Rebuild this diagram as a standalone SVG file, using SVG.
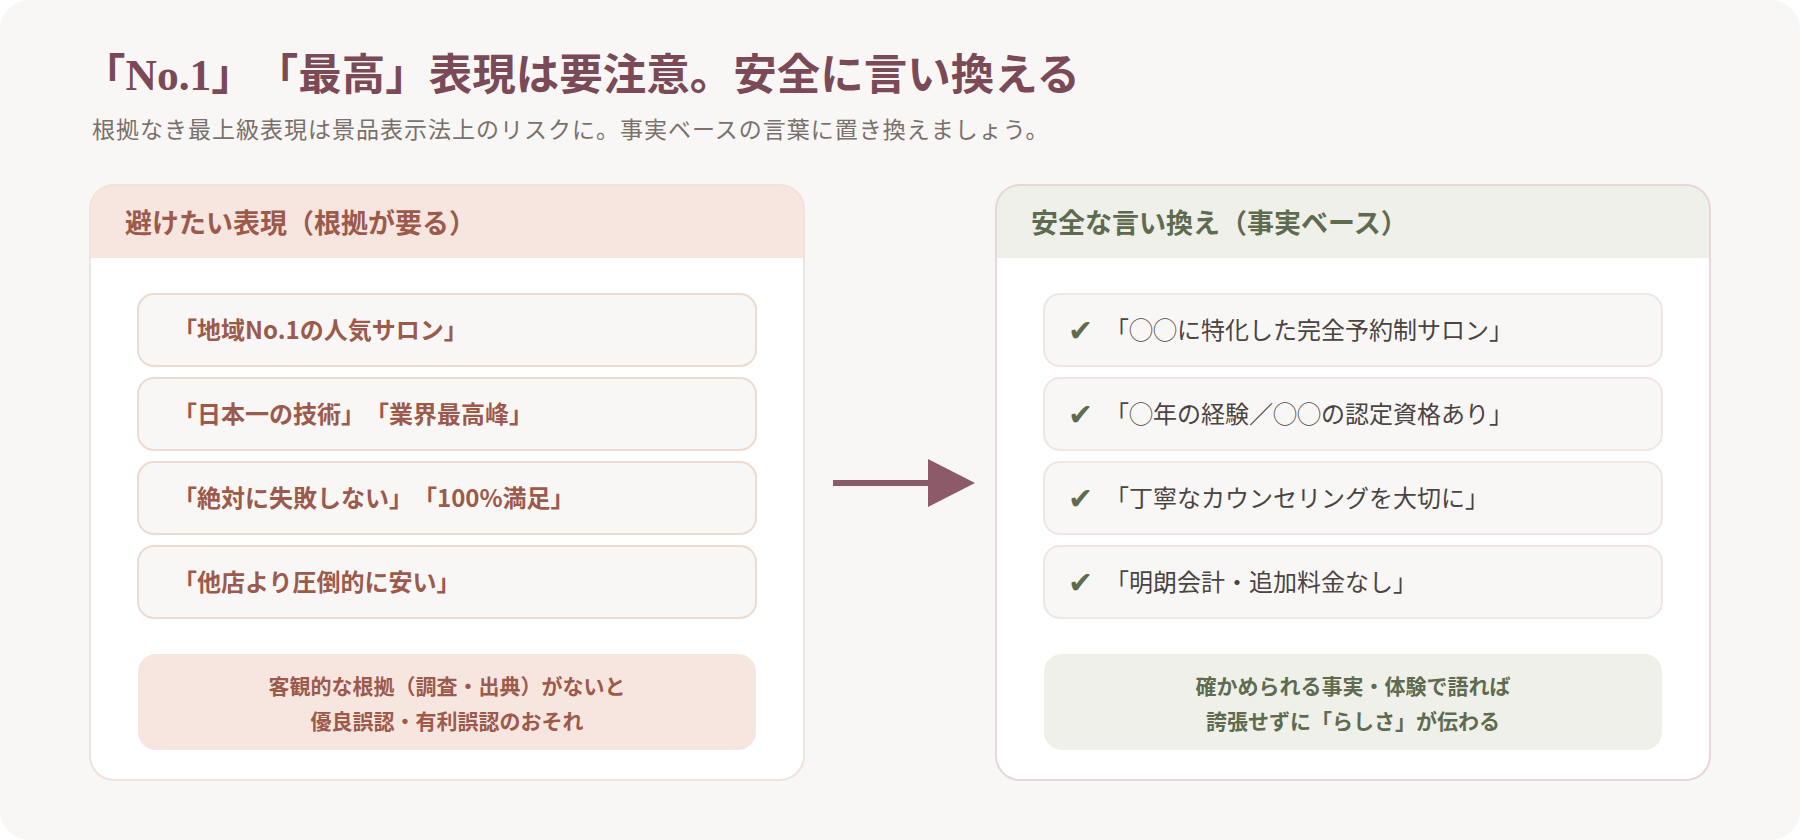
<svg xmlns="http://www.w3.org/2000/svg" width="1800" height="840" viewBox="0 0 1800 840">
  <style>
    svg, text { text-spacing-trim: space-all; }
    .jp { font-family: "Noto Sans CJK JP", "Noto Sans", sans-serif; }
    .title { font-family: "Liberation Serif", "Noto Sans CJK JP", serif; font-size: 43.5px; font-weight: 700; fill: #7b4a57; }
    .sub { font-size: 23px; fill: #7a706c; letter-spacing: 1px; }
    .hdrL { font-size: 27px; font-weight: 700; fill: #9c5a4c; }
    .hdrR { font-size: 27px; font-weight: 700; fill: #5e6b4f; }
    .itemL { font-size: 24px; font-weight: 700; fill: #9c5a4c; }
    .itemR { font-size: 24px; font-weight: 400; fill: #4a4442; }
    .noteL { font-size: 21px; font-weight: 700; fill: #9c5a4c; text-anchor: middle; }
    .noteR { font-size: 21px; font-weight: 700; fill: #5e6b4f; text-anchor: middle; }
    .check { font-family: "DejaVu Sans", sans-serif; font-size: 30px; font-weight: 400; fill: #5e6b4f; }
    .boxL { fill: #f9f7f5; stroke: #ecdccf; stroke-width: 2; }
    .boxR { fill: #f9f7f5; stroke: #efe6e3; stroke-width: 2; }
  </style>
  <rect x="0" y="0" width="1800" height="840" fill="#ffffff"/>
  <rect x="0" y="0" width="1800" height="840" rx="30" fill="#f9f7f5"/>

  <g id="title">
    <text class="title" x="82" y="90">「No.1」「最高」表現は要注意。安全に言い換える</text>
    <text class="jp sub" x="92" y="138">根拠なき最上級表現は景品表示法上のリスクに。事実ベースの言葉に置き換えましょう。</text>
  </g>

  <g id="panel-avoid">
    <rect x="90" y="185" width="714" height="595" rx="24" fill="#ffffff"/>
    <path d="M90 258 V209 A24 24 0 0 1 114 185 H780 A24 24 0 0 1 804 209 V258 Z" fill="#f7e6df"/>
    <rect x="90" y="185" width="714" height="595" rx="24" fill="none" stroke="#efe3dc" stroke-width="2"/>
    <text class="jp hdrL" x="125" y="233">避けたい表現（根拠が要る）</text>
  </g>
  <g id="avoid-1">
    <rect class="boxL" x="138" y="294" width="618" height="72" rx="16"/>
    <text class="jp itemL" x="173" y="339">「地域No.1の人気サロン」</text>
  </g>
  <g id="avoid-2">
    <rect class="boxL" x="138" y="378" width="618" height="72" rx="16"/>
    <text class="jp itemL" x="173" y="423">「日本一の技術」「業界最高峰」</text>
  </g>
  <g id="avoid-3">
    <rect class="boxL" x="138" y="462" width="618" height="72" rx="16"/>
    <text class="jp itemL" x="173" y="507">「絶対に失敗しない」「100%満足」</text>
  </g>
  <g id="avoid-4">
    <rect class="boxL" x="138" y="546" width="618" height="72" rx="16"/>
    <text class="jp itemL" x="173" y="591">「他店より圧倒的に安い」</text>
  </g>
  <g id="avoid-note">
    <rect x="138" y="654" width="618" height="96" rx="18" fill="#f7e6df"/>
    <text class="jp noteL" x="447" y="694">客観的な根拠（調査・出典）がないと</text>
    <text class="jp noteL" x="447" y="729">優良誤認・有利誤認のおそれ</text>
  </g>

  <g id="panel-safe">
    <rect x="996" y="185" width="714" height="595" rx="24" fill="#ffffff"/>
    <path d="M996 258 V209 A24 24 0 0 1 1020 185 H1686 A24 24 0 0 1 1710 209 V258 Z" fill="#eef0e9"/>
    <rect x="996" y="185" width="714" height="595" rx="24" fill="none" stroke="#e8d6da" stroke-width="2"/>
    <text class="jp hdrR" x="1031" y="233">安全な言い換え（事実ベース）</text>
  </g>
  <g id="safe-1">
    <rect class="boxR" x="1044" y="294" width="618" height="72" rx="16"/>
    <text class="check" x="1068" y="341">✔</text>
    <text class="jp itemR" x="1105" y="339">「◯◯に特化した完全予約制サロン」</text>
  </g>
  <g id="safe-2">
    <rect class="boxR" x="1044" y="378" width="618" height="72" rx="16"/>
    <text class="check" x="1068" y="425">✔</text>
    <text class="jp itemR" x="1105" y="423">「◯年の経験／◯◯の認定資格あり」</text>
  </g>
  <g id="safe-3">
    <rect class="boxR" x="1044" y="462" width="618" height="72" rx="16"/>
    <text class="check" x="1068" y="509">✔</text>
    <text class="jp itemR" x="1105" y="507">「丁寧なカウンセリングを大切に」</text>
  </g>
  <g id="safe-4">
    <rect class="boxR" x="1044" y="546" width="618" height="72" rx="16"/>
    <text class="check" x="1068" y="593">✔</text>
    <text class="jp itemR" x="1105" y="591">「明朗会計・追加料金なし」</text>
  </g>
  <g id="safe-note">
    <rect x="1044" y="654" width="618" height="96" rx="18" fill="#eef0e9"/>
    <text class="jp noteR" x="1353" y="694">確かめられる事実・体験で語れば</text>
    <text class="jp noteR" x="1353" y="729">誇張せずに「らしさ」が伝わる</text>
  </g>

  <g id="connectors">
    <line x1="833" y1="483" x2="930" y2="483" stroke="#8c5a68" stroke-width="6"/>
    <polygon points="928,459 975,483 928,507" fill="#8c5a68"/>
  </g>
</svg>
